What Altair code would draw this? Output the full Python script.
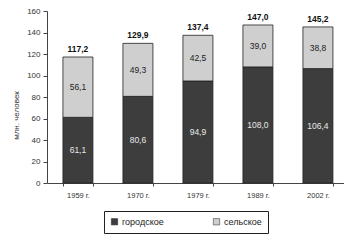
import altair as alt
import pandas as pd

years = ["1959 г.", "1970 г.", "1979 г.", "1989 г.", "2002 г."]
urban = [61.1, 80.6, 94.9, 108.0, 106.4]
rural = [56.1, 49.3, 42.5, 39.0, 38.8]
series = ["городское", "сельское"]
y_ticks = [0, 20, 40, 60, 80, 100, 120, 140, 160]

rows = []
for i, yr in enumerate(years):
    rows.append({"year": yr, "type": series[0], "value": urban[i], "ord": 0})
    rows.append({"year": yr, "type": series[1], "value": rural[i], "ord": 1})
df = pd.DataFrame(rows)

FONT = "Liberation Sans"
fmt = "replace(format({}, '.1f'), '.', ',')"

x_scale = alt.Scale(paddingInner=0.5, paddingOuter=0.225, align=0.59)
x_axis = alt.Axis(labelAngle=0, tickBand="extent", tickSize=3, labelFontSize=7.5,
                  labelPadding=5, labelColor="#333", domainColor="#444",
                  tickColor="#444", labelFont=FONT, title=None)
y_scale = alt.Scale(domain=[0, 160], nice=False)
y_axis = alt.Axis(values=y_ticks, tickCount=len(y_ticks), grid=False, title="млн. человек",
                  labelOverlap=False, tickSize=4, labelFontSize=8,
                  labelColor="#333", labelPadding=3, domainColor="#444",
                  tickColor="#444", titleFontSize=8, titleFontWeight="normal",
                  titleColor="#333", titleX=-31, titleY=104,
                  titleBaseline="middle", titleAlign="center",
                  labelFont=FONT, titleFont=FONT)

base = alt.Chart(df)

bars = base.mark_bar(stroke="#222", strokeWidth=0.8).encode(
    x=alt.X("year:N", sort=years, scale=x_scale, axis=x_axis),
    y=alt.Y("value:Q", stack="zero", scale=y_scale, axis=y_axis),
    color=alt.Color("type:N", scale=alt.Scale(domain=series, range=["#3d3d3d", "#cfcfcf"]),
                    legend=alt.Legend(title=None, orient="none", direction="horizontal",
                                      legendX=57, legendY=200, strokeColor="#222",
                                      padding=6, symbolType="square", symbolSize=40,
                                      symbolStrokeColor="#222", symbolStrokeWidth=0.5,
                                      labelFontSize=9, labelFont=FONT, labelColor="#222",
                                      labelOffset=3, columnPadding=48)),
    order=alt.Order("ord:Q"),
)

seg_text = base.transform_stack(
    stack="value", as_=["v0", "v1"], groupby=["year"], sort=[alt.SortField("ord")]
).transform_calculate(
    mid="(datum.v0 + datum.v1) / 2", lbl=fmt.format("datum.value")
).mark_text(fontSize=8.5, font=FONT, baseline="middle").encode(
    x=alt.X("year:N", sort=years, scale=x_scale, axis=None),
    y=alt.Y("mid:Q", scale=y_scale, axis=None),
    text="lbl:N",
    color=alt.condition("datum.ord == 0", alt.value("#e8e8e8"), alt.value("#222")),
)

tot_text = base.transform_aggregate(
    total="sum(value)", groupby=["year"]
).transform_calculate(
    lbl=fmt.format("datum.total")
).mark_text(fontSize=8.5, font=FONT, fontWeight="bold", baseline="bottom", dy=-3,
            color="#111").encode(
    x=alt.X("year:N", sort=years, scale=x_scale, axis=None),
    y=alt.Y("total:Q", scale=y_scale, axis=None),
    text="lbl:N",
)

chart = alt.layer(bars, seg_text, tot_text).resolve_axis(
    x="independent", y="independent"
).properties(
    width=297, height=172,
    autosize=alt.AutoSizeParams(type="none"),
    padding={"left": 47, "top": 11, "right": 0, "bottom": 59},
    background="white",
).configure_view(stroke=None)

chart.save("out.html", embed_options={"renderer": "svg", "actions": False})
